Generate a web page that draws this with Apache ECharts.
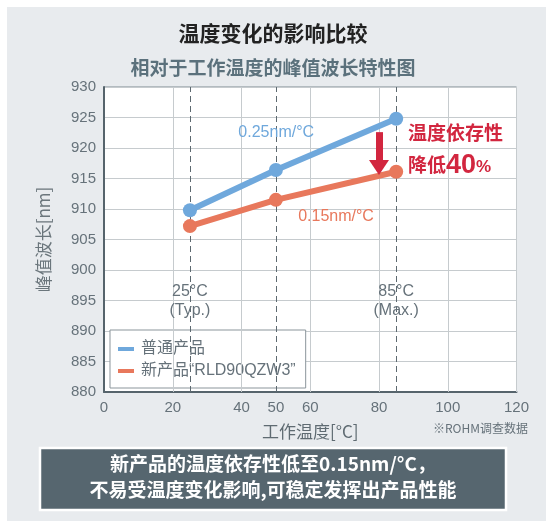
<!DOCTYPE html>
<html>
<head>
<meta charset="utf-8">
<script src="https://cdn.jsdelivr.net/npm/echarts@6/dist/echarts.min.js"></script>
<style>
  html, body { margin: 0; padding: 0; background: #ffffff; }
  #chart { width: 546px; height: 521px; }
</style>
</head>
<body>
<div id="chart"></div>
<script>
// Operating temperatures (°C) where the peak wavelength was measured
const temperatures = [25, 50, 85];
// Peak wavelength [nm]
const conventional = [909.8, 916.4, 924.8];
const newProduct = [907.2, 911.5, 916.1];
const seriesNames = ['普通产品', '新产品“RLD90QZW3”'];
// Axis tick labels
const xTickValues = [0, 20, 40, 50, 60, 80, 100, 120];
const xGridSolid = [20, 40, 60, 80, 100, 120];
const xGridDashed = [25, 50, 85];

const FONT = '"Liberation Sans", "Noto Sans CJK SC", sans-serif';
const CJK = '"Noto Sans CJK SC", sans-serif';
const BLUE = '#6fa8dc';
const ORANGE = '#e8785c';
const RED = '#d2263f';
const GREY_TEXT = '#66727a';

const chart = echarts.init(document.getElementById('chart'), null, { renderer: 'canvas' });

const pairs = (xs, ys) => xs.map((x, i) => [x, ys[i]]);

const option = {
  animation: false,
  backgroundColor: '#ffffff',
  textStyle: { fontFamily: FONT },
  grid: {
    left: 104, top: 87, right: 29.5, bottom: 129,
    show: true, backgroundColor: '#ffffff',
    borderColor: '#7f8b92', borderWidth: 1
  },
  graphic: [
    { type: 'rect', z: -10, silent: true,
      shape: { x: 7, y: 7, width: 546, height: 521 },
      style: { fill: '#e8ebee' } },
    { type: 'text', left: 'center', top: 23,
      style: { text: '温度变化的影响比较', font: 'bold 21px ' + CJK, fill: '#222222' } },
    { type: 'text', left: 'center', top: 58,
      style: { text: '相对于工作温度的峰值波长特性图', font: 'bold 19px ' + CJK, fill: '#5b717c' } },
    { type: 'text', right: 18, top: 422,
      style: { text: '※ROHM调查数据', font: '12px ' + CJK, fill: GREY_TEXT } },
    { type: 'rect', silent: true,
      shape: { x: 40, y: 448, width: 466, height: 62 },
      style: { fill: '#56666f', stroke: '#ffffff', lineWidth: 2.5 } },
    { type: 'text', left: 'center', top: 454,
      style: { text: '新产品的温度依存性低至0.15nm/°C，', font: 'bold 19px ' + CJK, fill: '#ffffff' } },
    { type: 'text', left: 'center', top: 480,
      style: { text: '不易受温度变化影响,可稳定发挥出产品性能', font: 'bold 19px ' + CJK, fill: '#ffffff' } }
  ],
  legend: {
    orient: 'vertical',
    left: 110, top: 330,
    padding: [11, 10, 9, 8],
    itemGap: 6,
    itemWidth: 16, itemHeight: 4,
    icon: 'rect',
    backgroundColor: '#ffffff',
    borderColor: '#8b959b', borderWidth: 1,
    textStyle: { fontFamily: FONT, fontSize: 16, color: GREY_TEXT, padding: [0, 0, 0, 2] },
    data: seriesNames
  },
  xAxis: {
    type: 'value', min: 0, max: 120, interval: 10,
    name: '工作温度[°C]', nameLocation: 'middle', nameGap: 31,
    nameTextStyle: { fontFamily: CJK, fontSize: 17, color: '#5f6b72' },
    axisLine: { show: true, onZero: false, lineStyle: { color: '#56646c', width: 2 } },
    axisTick: { show: false },
    splitLine: { show: false },
    axisLabel: { customValues: xTickValues, fontSize: 15, color: GREY_TEXT, margin: 8 }
  },
  yAxis: {
    type: 'value', min: 880, max: 930, interval: 5,
    name: '峰值波长[nm]', nameLocation: 'middle', nameGap: 52,
    nameTextStyle: { fontFamily: CJK, fontSize: 17, color: '#6b767c' },
    axisLine: { show: true, lineStyle: { color: '#56646c', width: 2 } },
    axisTick: { show: false },
    splitLine: { show: true, lineStyle: { color: '#c6cbce', width: 1 } },
    axisLabel: { fontSize: 15, color: GREY_TEXT, margin: 8 }
  },
  series: [
    {
      // reference lines: solid grid, dashed markers at 25/50/85°C
      type: 'line', data: [], silent: true, z: 1,
      markLine: {
        silent: true, symbol: 'none', animation: false,
        label: { show: false },
        data: [
          ...xGridSolid.map(v => ({ xAxis: v, lineStyle: { color: '#c6cbce', width: 1, type: 'solid' } })),
          ...xGridDashed.map(v => ({ xAxis: v, lineStyle: { color: '#5d6970', width: 1, type: [6, 4] } }))
        ]
      },
      markPoint: {
        silent: true, symbol: 'circle', symbolSize: 0,
        label: { show: true, fontFamily: FONT, fontSize: 16, color: GREY_TEXT, lineHeight: 19, align: 'center', verticalAlign: 'middle' },
        data: [
          { coord: [25, 894.9], value: '25°C\n(Typ.)' },
          { coord: [85, 894.9], value: '85°C\n(Max.)' }
        ]
      }
    },
    {
      name: seriesNames[0], type: 'line', z: 5,
      data: pairs(temperatures, conventional),
      color: BLUE,
      lineStyle: { width: 6, color: BLUE },
      symbol: 'circle', symbolSize: 14,
      itemStyle: { color: BLUE },
      markPoint: {
        silent: true, symbol: 'circle', symbolSize: 0,
        label: { show: true, formatter: '0.25nm/°C', fontFamily: FONT, fontSize: 16, color: BLUE, align: 'center', verticalAlign: 'middle' },
        data: [{ coord: [50.1, 922.5] }]
      }
    },
    {
      name: seriesNames[1], type: 'line', z: 5,
      data: pairs(temperatures, newProduct),
      color: ORANGE,
      lineStyle: { width: 6, color: ORANGE },
      symbol: 'circle', symbolSize: 14,
      itemStyle: { color: ORANGE },
      markPoint: {
        silent: true, symbol: 'circle', symbolSize: 0,
        label: { show: true, formatter: '0.15nm/°C', fontFamily: FONT, fontSize: 16, color: ORANGE, align: 'center', verticalAlign: 'middle' },
        data: [{ coord: [67.5, 908.7] }]
      },
      markLine: {
        silent: true, z: 6,
        symbol: ['none', 'triangle'], symbolSize: [20, 15], symbolRotate: 180,
        label: { show: false },
        lineStyle: { color: RED, width: 7, type: 'solid' },
        itemStyle: { color: RED },
        data: [[{ coord: [80, 922.6] }, { coord: [80, 916.8] }]]
      }
    },
    {
      // temperature-dependence note
      type: 'line', data: [], silent: true,
      markPoint: {
        silent: true, symbol: 'circle', symbolSize: 0,
        label: {
          show: true, align: 'left', verticalAlign: 'middle', color: RED,
          fontFamily: CJK, fontWeight: 'bold', fontSize: 19,
          rich: {
            c: { fontFamily: CJK, fontWeight: 'bold', fontSize: 19, color: RED },
            n: { fontFamily: FONT, fontWeight: 'bold', fontSize: 27, color: RED },
            p: { fontFamily: FONT, fontWeight: 'bold', fontSize: 17, color: RED, padding: [4, 0, 0, 0] }
          }
        },
        data: [
          { coord: [88.4, 922.5], value: '温度依存性' },
          { coord: [88.4, 917.2], value: '{c|降低}{n|40}{p|%}' }
        ]
      }
    }
  ]
};

chart.setOption(option);
</script>
</body>
</html>
